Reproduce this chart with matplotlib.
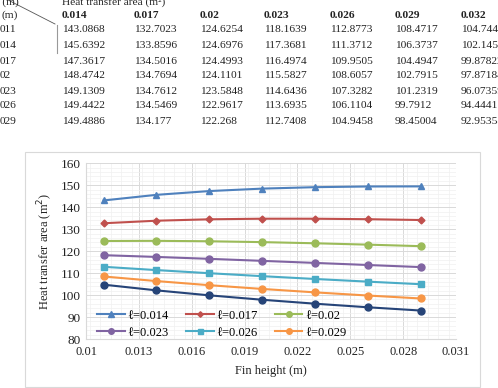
import numpy as np
import matplotlib
matplotlib.use('Agg')
import matplotlib.pyplot as plt
import matplotlib.ticker as ticker

# fin heights (rows of the table) and fin spacing values (columns)
heights = [0.011, 0.014, 0.017, 0.02, 0.023, 0.026, 0.029]
height_labels = ['011', '014', '017', '02', '023', '026', '029']
spacings = ['0.014', '0.017', '0.02', '0.023', '0.026', '0.029', '0.032']
x_ticks = [0.01, 0.013, 0.016, 0.019, 0.022, 0.025, 0.028, 0.031]

area_014 = [143.0868, 145.6392, 147.3617, 148.4742, 149.1309, 149.4422, 149.4886]
area_017 = [132.7023, 133.8596, 134.5016, 134.7694, 134.7612, 134.5469, 134.177]
area_020 = [124.6254, 124.6976, 124.4993, 124.1101, 123.5848, 122.9617, 122.268]
area_023 = [118.1639, 117.3681, 116.4974, 115.5827, 114.6436, 113.6935, 112.7408]
area_026 = [112.8773, 111.3712, 109.9505, 108.6057, 107.3282, 106.1104, 104.9458]
area_029 = [108.4717, 106.3737, 104.4947, 102.7915, 101.2319, 99.7912, 98.45004]
area_032 = [104.744, 102.1451, 99.87822, 97.87184, 96.07359, 94.44417, 92.95358]

table_cells = [
    ['143.0868', '132.7023', '124.6254', '118.1639', '112.8773', '108.4717', '104.744'],
    ['145.6392', '133.8596', '124.6976', '117.3681', '111.3712', '106.3737', '102.1451'],
    ['147.3617', '134.5016', '124.4993', '116.4974', '109.9505', '104.4947', '99.87822'],
    ['148.4742', '134.7694', '124.1101', '115.5827', '108.6057', '102.7915', '97.87184'],
    ['149.1309', '134.7612', '123.5848', '114.6436', '107.3282', '101.2319', '96.07359'],
    ['149.4422', '134.5469', '122.9617', '113.6935', '106.1104', '99.7912', '94.44417'],
    ['149.4886', '134.177', '122.268', '112.7408', '104.9458', '98.45004', '92.95358'],
]

W, H = 498, 388
fig = plt.figure(figsize=(W / 100, H / 100), dpi=100)
fig.patch.set_facecolor('white')

tfont = dict(family=['Liberation Serif', 'DejaVu Serif'], fontsize=8.2, color='#222222')

# ---- table fragment at the top ----
col_x = [62, 134, 200, 264, 330, 395, 461]
row_y = [30, 45.5, 61, 76, 91, 106, 121.5]
fig.text(-6 / W, 1 - 2 / H, 'ℓ (m)', va='center', ha='left', **tfont)
fig.text(62 / W, 1 - 2 / H, 'Heat transfer area (m²)', va='center', ha='left', **tfont)
fig.text(1 / W, 1 - 15 / H, '(m)', va='center', ha='left', **tfont)
for x, s in zip(col_x, spacings):
    fig.text(x / W, 1 - 15 / H, s, va='center', ha='left', fontweight='bold', **tfont)
for y, lab, row in zip(row_y, height_labels, table_cells):
    fig.text(0, 1 - y / H, lab, va='center', ha='left', **tfont)
    for x, s in zip(col_x, row):
        fig.text(x / W, 1 - y / H, s, va='center', ha='left', **tfont)
fig.add_artist(plt.Line2D([10 / W, 55 / W], [1 - 1 / H, 1 - 24 / H], color='#555555', lw=0.6))
fig.add_artist(plt.Line2D([57 / W, 57 / W], [1 - 25 / H, 1 - 53 / H], color='#999999', lw=0.8))

# ---- chart frame ----
fig.add_artist(plt.Rectangle((25 / W, 1 - 387 / H), 455 / W, 235 / H, fill=False,
                             edgecolor='#D9D9D9', lw=0.8))

ax = fig.add_axes([86 / W, 49 / H, 370 / W, 175.7 / H])
series = [
    (area_014, 'ℓ=0.014', '#4F81BD', '^', 5),
    (area_017, 'ℓ=0.017', '#C0504D', 'D', 3.5),
    (area_020, 'ℓ=0.02', '#9BBB59', 'o', 5),
    (area_023, 'ℓ=0.023', '#8064A2', 'o', 5),
    (area_026, 'ℓ=0.026', '#4BACC6', 's', 4.5),
    (area_029, 'ℓ=0.029', '#F79646', 'o', 5),
    (area_032, None, '#264478', 'o', 5),
]
handles = []
for vals, lab, c, m, ms in series:
    h, = ax.plot(heights, vals, color=c, marker=m, markersize=ms, lw=1.5, label=lab)
    if lab:
        handles.append(h)

ax.set_xlim(0.01, 0.031)
ax.set_ylim(80, 160)
ax.set_xticks(x_ticks)
ax.set_xticklabels([('%.3f' % v).rstrip('0') for v in x_ticks])
ax.xaxis.set_minor_locator(ticker.MultipleLocator(0.0006))
ax.yaxis.set_major_locator(ticker.MultipleLocator(10))
ax.yaxis.set_minor_locator(ticker.MultipleLocator(2))
ax.grid(which='major', color='#D9D9D9', lw=0.7)
ax.grid(which='minor', color='#F0F0F0', lw=0.5)
ax.set_axisbelow(True)
for s in ['top', 'right']:
    ax.spines[s].set_visible(False)
for s in ['left', 'bottom']:
    ax.spines[s].set_color('#D9D9D9')
ax.tick_params(axis='y', which='both', length=0, labelsize=9.5, colors='#222222', pad=4)
ax.tick_params(axis='x', which='both', length=0, labelsize=9, colors='#222222', pad=5)
for t in ax.get_xticklabels() + ax.get_yticklabels():
    t.set_family(['Liberation Serif', 'DejaVu Serif'])

lfont = dict(family=['Liberation Serif', 'DejaVu Serif'], size=9)
ax.set_xlabel('Fin height (m)', fontdict=lfont, labelpad=5, color='#222222')
ax.set_ylabel('Heat transfer area (m$^2$)', fontdict=lfont, labelpad=4, color='#222222')

# row-major order like the reference legend (matplotlib fills by column)
order = [0, 3, 1, 4, 2, 5]
ax.legend(handles=[handles[i] for i in order], ncol=3, loc='center left',
          bbox_to_anchor=(0.0, 0.085), frameon=False, prop=lfont,
          handlelength=2.2, handletextpad=0.2, columnspacing=1.4,
          labelspacing=0.4, markerscale=0.8)

fig.savefig('out.png', dpi=100)
